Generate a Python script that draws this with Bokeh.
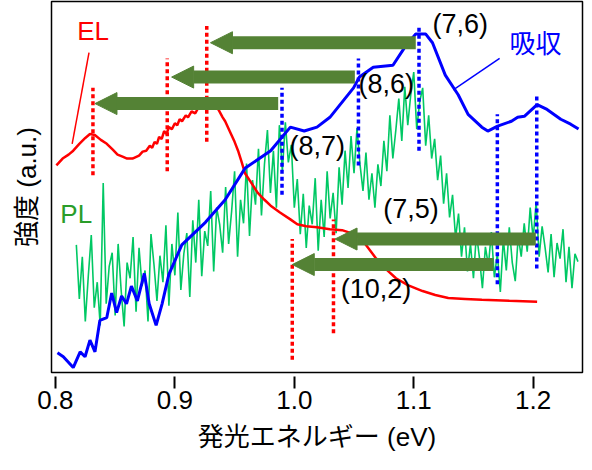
from bokeh.plotting import figure
from bokeh.models import Range1d, FixedTicker, Arrow, NormalHead
from bokeh.embed import file_html
from bokeh.resources import INLINE
from bokeh.core.properties import value

# ---------------- data (energy in eV, intensity in arbitrary units) ----------------
el_energy = [0.8008, 0.8060, 0.8110, 0.8149, 0.8200, 0.8250, 0.8289, 0.8330, 0.8380, 0.8430,
             0.8480, 0.8520, 0.8562, 0.8600, 0.8645, 0.8700, 0.8730, 0.8760, 0.8790, 0.8810,
             0.8830, 0.8850, 0.8868, 0.8890, 0.8910, 0.8930, 0.8950, 0.8975, 0.9000, 0.9020,
             0.9040, 0.9060, 0.9091, 0.9110, 0.9140, 0.9170, 0.9198, 0.9230, 0.9260, 0.9300,
             0.9340, 0.9364, 0.9400, 0.9421, 0.9470, 0.9500, 0.9529, 0.9560, 0.9587, 0.9636,
             0.9694, 0.9750, 0.9802, 0.9880, 0.9967, 1.0025, 1.0100, 1.0190, 1.0298, 1.0400,
             1.0450, 1.0521, 1.0600, 1.0686, 1.0770, 1.0851, 1.0950, 1.1074, 1.1180, 1.1289,
             1.1430, 1.1570, 1.1800, 1.2033]
el_intensity = [211, 218, 222, 226, 233, 239, 243, 242, 237, 233,
                227, 222, 220, 218, 218, 221, 225, 226, 231, 229,
                235, 233, 240, 238, 246, 243, 250, 248, 254, 252,
                258, 256, 262, 260, 266, 264, 270, 271, 272, 271,
                270, 268, 260, 256, 243, 235, 226, 214, 203, 194,
                183, 176, 170, 163, 156, 151, 149, 148, 146, 145,
                143, 140, 130, 116, 105, 96, 89, 83, 79, 76,
                75, 74, 73, 72]

abs_energy = [0.8017, 0.8066, 0.8149, 0.8207, 0.8248, 0.8289, 0.8331, 0.8372, 0.8430, 0.8471,
              0.8512, 0.8554, 0.8595, 0.8636, 0.8686, 0.8744, 0.8785, 0.8843, 0.8893, 0.8950,
              0.9058, 0.9256, 0.9421, 0.9587, 0.9802, 0.9967, 1.0083, 1.0190, 1.0298, 1.0496,
              1.0545, 1.0661, 1.0826, 1.0934, 1.1017, 1.1099, 1.1157, 1.1264, 1.1372, 1.1455,
              1.1570, 1.1620, 1.1702, 1.1818, 1.1870, 1.1926, 1.2033, 1.2116, 1.2231, 1.2314,
              1.2380]
abs_intensity = [20, 16, 5, 21, 16, 33, 21, 53, 56, 81,
                 61, 78, 70, 88, 73, 101, 70, 48, 70, 100,
                 130, 153, 176, 208, 226, 250, 246, 250, 260, 290,
                 301, 311, 313, 333, 345, 345, 336, 303, 283, 263,
                 250, 246, 251, 256, 260, 261, 273, 268, 258, 253,
                 248]

pl_start = 0.8175
pl_step = 0.0025
pl_intensity = [130, 75, 118, 52, 98, 140, 66, 92, 48, 193,
                70, 108, 122, 58, 131, 84, 47, 112, 96, 138,
                62, 127, 88, 104, 52, 141, 110, 73, 119, 92,
                150, 68, 131, 99, 163, 84, 121, 142, 77, 155,
                112, 176, 98, 144, 129, 185, 103, 168, 151, 122,
                189, 131, 164, 205, 118, 176, 152, 213, 139, 196,
                171, 228, 160, 212, 247, 183, 226, 168, 252, 205,
                255, 214, 232, 168, 197, 141, 182, 127, 170, 151,
                198, 124, 176, 138, 205, 157, 183, 142, 209, 171,
                226, 188, 241, 203, 249, 212, 185, 224, 176, 203,
                168, 212, 190, 236, 205, 262, 218, 247, 279, 236,
                291, 252, 283, 306, 248, 276, 290, 231, 262, 218,
                238, 196, 221, 172, 203, 158, 181, 137, 162, 118,
                148, 103, 131, 96, 142, 117, 86, 128, 109, 143,
                97, 121, 82, 136, 104, 148, 112, 93, 139, 118,
                152, 123, 168, 136, 174, 118, 149, 127, 102, 141,
                97, 132, 116, 146, 92, 128, 86, 121, 113]
pl_energy = [round(pl_start + pl_step * i, 4) for i in range(len(pl_intensity))]

# peak markers (dotted verticals)
el_peak_energy = [0.8314, 0.8936, 0.9267, 0.9983, 1.0328]
el_peak_low = [201, 205, 235, 13, 40]
el_peak_high = [290, 320, 353, 136, 156]
abs_peak_energy = [0.9897, 1.0537, 1.1044, 1.1700, 1.2030]
abs_peak_low = [181, 211, 226, 90, 106]
abs_peak_high = [290, 320, 353, 263, 283]

# transitions (arrows from absorption peak to emission peak)
arrow_from = [1.1017, 1.0507, 0.9865, 1.2022, 1.1669]
arrow_to = [0.9298, 0.8973, 0.8331, 1.0341, 0.9983]
arrow_level = [336, 301, 274, 136, 110]

# chirality labels
chir_text = ["(7,6)", "(8,6)", "(8,7)", "(7,5)", "(10,2)"]
chir_x = [1.1157, 1.0537, 0.9959, 1.0744, 1.0388]
chir_y = [355, 294, 231, 167, 85]

# ---------------- figure ----------------
p = figure(width=584, height=454,
           x_range=Range1d(0.7967, 1.2413), y_range=Range1d(0, 378),
           output_backend="svg", toolbar_location=None,
           min_border_left=51, min_border_right=2, min_border_top=1, min_border_bottom=0)
p.background_fill_color = "white"
p.border_fill_color = "white"
p.outline_line_color = "black"
p.outline_line_width = 1.5
p.xgrid.visible = False
p.ygrid.visible = False

xa = p.xaxis[0]
xa.ticker = FixedTicker(ticks=[0.8, 0.9, 1.0, 1.1, 1.2])
xa.major_label_overrides = {0.8: "0.8", 0.9: "0.9", 1.0: "1.0", 1.1: "1.1", 1.2: "1.2"}
xa.axis_line_color = None
xa.major_tick_in = -4
xa.major_tick_out = 16
xa.major_tick_line_width = 2
xa.minor_tick_line_color = None
xa.major_label_text_font = "Liberation Sans"
xa.major_label_text_font_size = "26px"
xa.major_label_text_color = "black"
xa.major_label_standoff = 2
xa.axis_label = "発光エネルギー (eV)"
xa.axis_label_text_font = "'Liberation Sans', 'Noto Sans CJK JP'"
xa.axis_label_text_font_size = "26px"
xa.axis_label_text_font_style = "normal"
xa.axis_label_text_color = "black"
xa.axis_label_standoff = 10

ya = p.yaxis[0]
ya.ticker = FixedTicker(ticks=[])
ya.axis_line_color = None
ya.major_tick_out = 0
ya.major_tick_in = 0
ya.minor_tick_line_color = None
ya.axis_label = "強度 (a.u.)"
ya.axis_label_text_font = "'Liberation Sans', 'Noto Sans CJK JP'"
ya.axis_label_text_font_size = "26px"
ya.axis_label_text_font_style = "normal"
ya.axis_label_text_color = "black"
ya.axis_label_standoff = 10

# curves
p.line(pl_energy, pl_intensity, line_color="#00c864", line_width=1.6)
p.line(el_energy, el_intensity, line_color="#ff0000", line_width=2.5)
p.line(abs_energy, abs_intensity, line_color="#0000ff", line_width=3)

# dotted peak markers
p.segment(x0=el_peak_energy, y0=el_peak_low, x1=el_peak_energy, y1=el_peak_high,
          line_color="#ff0000", line_width=3.5, line_dash="4 3")
p.segment(x0=abs_peak_energy, y0=abs_peak_low, x1=abs_peak_energy, y1=abs_peak_high,
          line_color="#0000ff", line_width=3.5, line_dash="4 3")

# arrows
for xs, xe, yl in zip(arrow_from, arrow_to, arrow_level):
    p.add_layout(Arrow(x_start=xs, y_start=yl, x_end=xe, y_end=yl,
                       line_color="#548235", line_width=13,
                       end=NormalHead(size=22, fill_color="#548235", line_color="#548235", line_width=1)))

# leader lines for legend words
p.line([0.8281, 0.8140], [326, 233], line_color="#ff0000", line_width=1.5)
p.line([1.1719, 1.1331], [320, 288], line_color="#0000ff", line_width=1.5)

# texts
p.text(x=chir_x, y=chir_y, text=chir_text, text_font=value("Liberation Sans"),
       text_font_size="27px", text_baseline="middle", text_align="left", text_color="black")
p.text(x=[0.8182], y=[348], text=["EL"], text_font=value("Liberation Sans"),
       text_font_size="26px", text_baseline="middle", text_align="left", text_color="#ff0000")
p.text(x=[0.8041], y=[161], text=["PL"], text_font=value("Liberation Sans"),
       text_font_size="26px", text_baseline="middle", text_align="left", text_color="#2a9d2a")
p.text(x=[1.1802], y=[337], text=["吸収"], text_font=value("Noto Sans CJK JP"),
       text_font_size="26px", text_baseline="middle", text_align="left", text_color="#0000ff")

open("out.html", "w").write(file_html(p, INLINE))
